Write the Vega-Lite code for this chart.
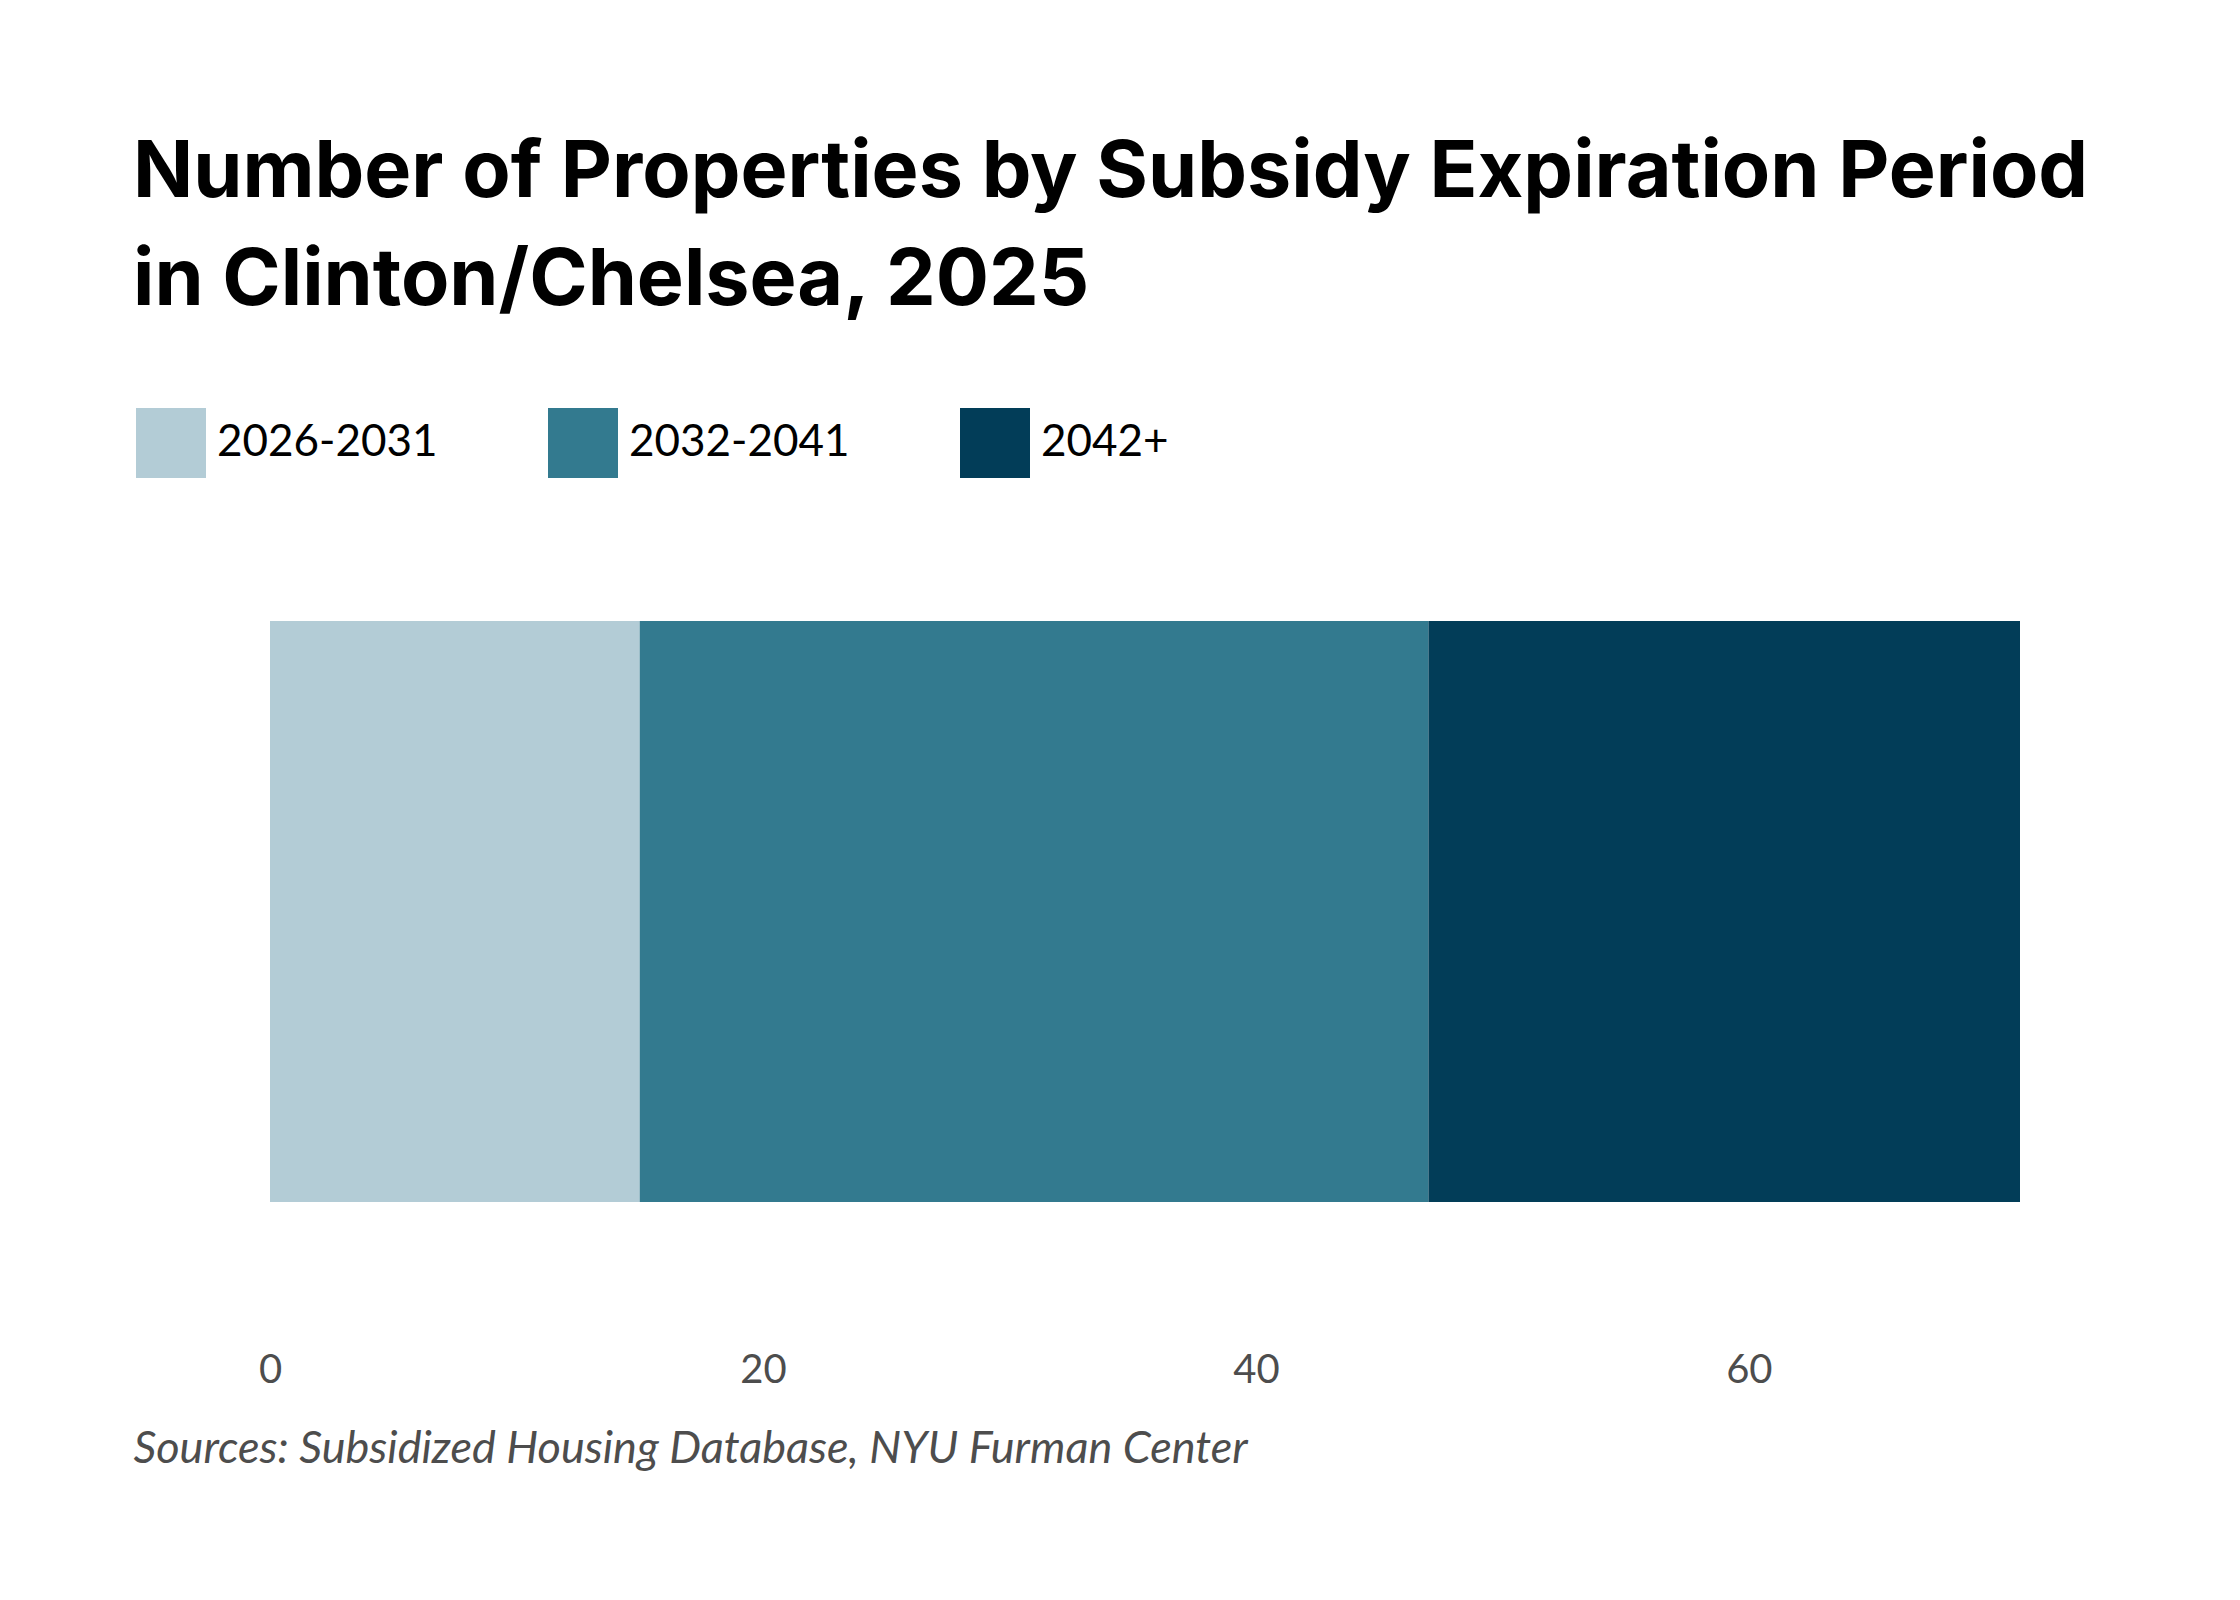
{
  "$schema": "https://vega.github.io/schema/vega-lite/v6.json",
  "background": "white",
  "padding": {"left": 133, "top": 134, "right": 20, "bottom": 20},
  "width": 1750,
  "height": 581,
  "title": {
    "text": ["Number of Properties by Subsidy Expiration Period", "in Clinton/Chelsea, 2025"],
    "anchor": "start",
    "frame": "bounds",
    "font": "Inter",
    "fontSize": 79,
    "fontWeight": "bold",
    "lineHeight": 108,
    "color": "#000000",
    "offset": 86
  },
  "data": {
    "values": [
      {"area": "Clinton/Chelsea", "period": "2026-2031", "order": 1, "properties": 15},
      {"area": "Clinton/Chelsea", "period": "2032-2041", "order": 2, "properties": 32},
      {"area": "Clinton/Chelsea", "period": "2042+", "order": 3, "properties": 24}
    ]
  },
  "mark": {"type": "bar"},
  "encoding": {
    "y": {
      "field": "area",
      "type": "nominal",
      "axis": null,
      "scale": {"paddingInner": 0, "paddingOuter": 0}
    },
    "x": {
      "field": "properties",
      "type": "quantitative",
      "stack": "zero",
      "scale": {"domain": [0, 71], "nice": false},
      "axis": {
        "values": [0, 20, 40, 60],
        "domain": false,
        "ticks": false,
        "grid": false,
        "labelFlush": false,
        "labelFont": "Lato",
        "labelFontSize": 40,
        "labelColor": "#4d4d4d",
        "labelPadding": 148,
        "title": "Sources: Subsidized Housing Database, NYU Furman Center",
        "titleFont": "Lato",
        "titleFontSize": 45,
        "titleFontStyle": "italic",
        "titleFontWeight": "normal",
        "titleColor": "#4d4d4d",
        "titleAnchor": "start",
        "titleAlign": "left",
        "titleBaseline": "alphabetic",
        "titleX": -137,
        "titleY": 260
      }
    },
    "color": {
      "field": "period",
      "type": "nominal",
      "scale": {
        "domain": ["2026-2031", "2032-2041", "2042+"],
        "range": ["#b3ccd6", "#337a8f", "#023d58"]
      },
      "legend": {
        "title": null,
        "orient": "none",
        "legendX": -134,
        "legendY": -213,
        "direction": "horizontal",
        "columns": 3,
        "gridAlign": "all",
        "columnPadding": 110,
        "symbolType": "square",
        "symbolSize": 4900,
        "symbolStrokeWidth": 0,
        "symbolOpacity": 1,
        "labelFont": "Lato",
        "labelFontSize": 44,
        "labelLimit": 400,
        "labelColor": "#000000",
        "labelOffset": 11
      }
    },
    "order": {"field": "order"}
  },
  "config": {
    "view": {"stroke": null}
  }
}
